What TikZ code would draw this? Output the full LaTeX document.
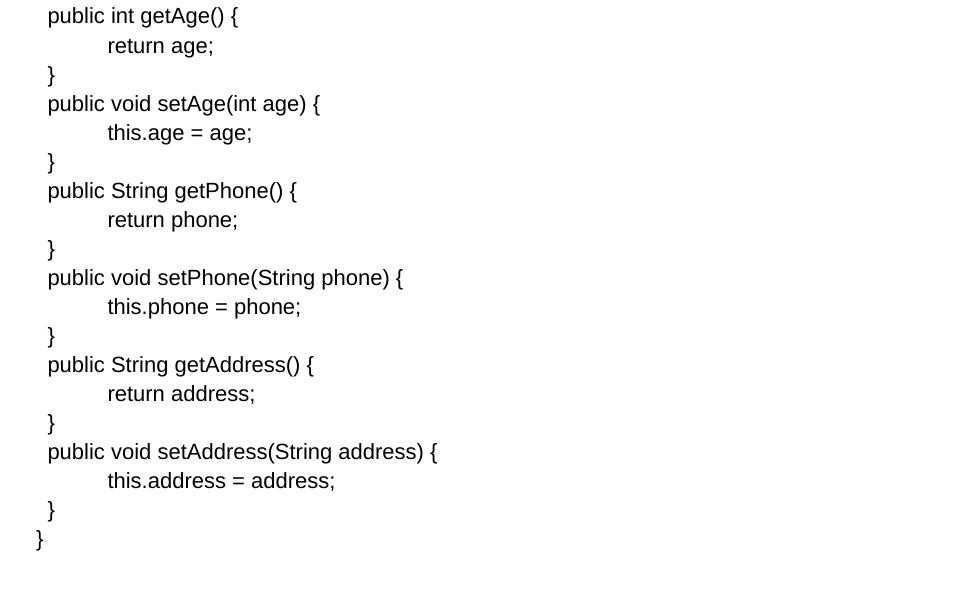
\documentclass[tikz,border=0pt]{standalone}
\usepackage{fontspec}
\setmainfont{Liberation Sans}
\begin{document}
\begin{tikzpicture}[x=1bp,y=-1bp,
  code/.style={anchor=base west,inner sep=0pt,outer sep=0pt,font=\fontsize{22bp}{25bp}\selectfont,text=black}]
\useasboundingbox[fill=white] (0,0) rectangle (978,599);
\def\lh{29.02}
\def\bl{24}
\node[code] (l1)  at (47.5,{\bl+0*\lh})  {public int getAge() \{};
\node[code] (l2)  at (107.5,{\bl+1*\lh}) {return age;};
\node[code] (l3)  at (47.5,{\bl+2*\lh})  {\}};
\node[code] (l4)  at (47.5,{\bl+3*\lh})  {public void setAge(int age) \{};
\node[code] (l5)  at (107.5,{\bl+4*\lh}) {this.age = age;};
\node[code] (l6)  at (47.5,{\bl+5*\lh})  {\}};
\node[code] (l7)  at (47.5,{\bl+6*\lh})  {public String getPhone() \{};
\node[code] (l8)  at (107.5,{\bl+7*\lh}) {return phone;};
\node[code] (l9)  at (47.5,{\bl+8*\lh})  {\}};
\node[code] (l10) at (47.5,{\bl+9*\lh})  {public void setPhone(String phone) \{};
\node[code] (l11) at (107.5,{\bl+10*\lh}) {this.phone = phone;};
\node[code] (l12) at (47.5,{\bl+11*\lh}) {\}};
\node[code] (l13) at (47.5,{\bl+12*\lh}) {public String getAddress() \{};
\node[code] (l14) at (107.5,{\bl+13*\lh}) {return address;};
\node[code] (l15) at (47.5,{\bl+14*\lh}) {\}};
\node[code] (l16) at (47.5,{\bl+15*\lh}) {public void setAddress(String address) \{};
\node[code] (l17) at (107.5,{\bl+16*\lh}) {this.address = address;};
\node[code] (l18) at (47.5,{\bl+17*\lh}) {\}};
\node[code] (l19) at (36,{\bl+18*\lh})   {\}};
\end{tikzpicture}
\end{document}
